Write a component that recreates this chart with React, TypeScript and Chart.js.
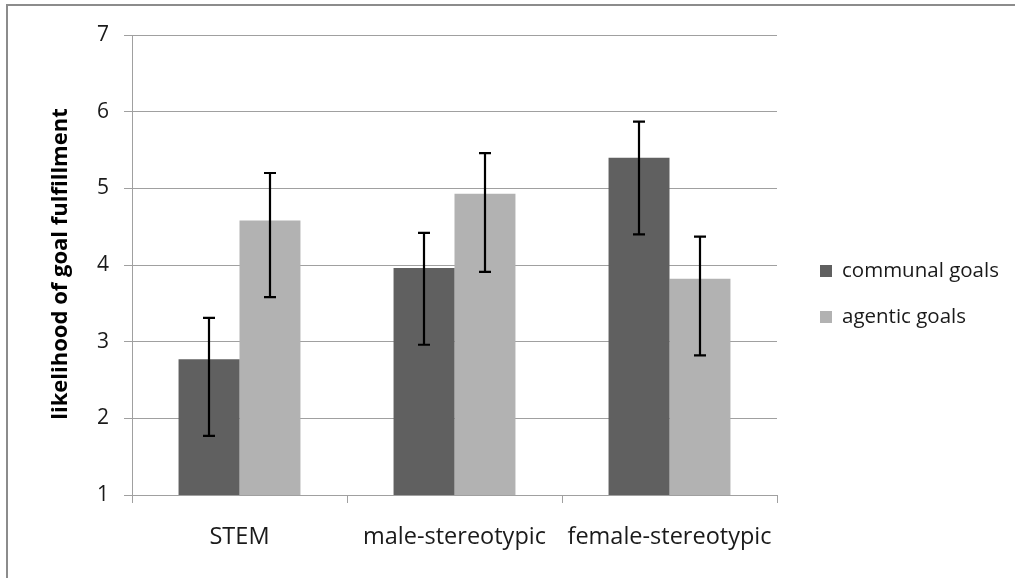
import React, { useEffect, useRef } from "react";
import { Chart, registerables } from "chart.js";

Chart.register(...registerables);

const categories = ["STEM", "male-stereotypic", "female-stereotypic"];
const seriesNames = ["communal goals", "agentic goals"];
const communalMeans = [2.77, 3.96, 5.4];
const agenticMeans = [4.58, 4.93, 3.82];
const communalLow = [1.77, 2.96, 4.4];
const communalHigh = [3.31, 4.42, 5.87];
const agenticLow = [3.58, 3.91, 2.82];
const agenticHigh = [5.2, 5.46, 4.37];
const yTicks = [1, 2, 3, 4, 5, 6, 7];
const yTitle = "likelihood of goal fulfillment";

const COLORS = ["#606060", "#b2b2b2"];
const FONT = "'Open Sans', 'DejaVu Sans', sans-serif";

const errorBarPlugin = {
  id: "errorBars",
  afterDatasetsDraw(chart: any) {
    const ctx = chart.ctx;
    const y = chart.scales.y;
    const lows = [communalLow, agenticLow];
    const highs = [communalHigh, agenticHigh];
    ctx.save();
    ctx.strokeStyle = "#000";
    ctx.lineWidth = 2.2;
    chart.data.datasets.forEach((_: any, di: number) => {
      const meta = chart.getDatasetMeta(di);
      meta.data.forEach((bar: any, i: number) => {
        const x = Math.round(bar.x);
        const yl = y.getPixelForValue(lows[di][i]);
        const yh = y.getPixelForValue(highs[di][i]);
        ctx.beginPath();
        ctx.moveTo(x, yl);
        ctx.lineTo(x, yh);
        ctx.moveTo(x - 6, yl);
        ctx.lineTo(x + 6, yl);
        ctx.moveTo(x - 6, yh);
        ctx.lineTo(x + 6, yh);
        ctx.stroke();
      });
    });
    ctx.restore();
  },
};

const decorPlugin = {
  id: "decor",
  afterDraw(chart: any) {
    const ctx = chart.ctx;
    const area = chart.chartArea;
    ctx.save();
    ctx.translate(61, (area.top + area.bottom) / 2 - 1);
    ctx.rotate(-Math.PI / 2);
    ctx.font = `bold 22px ${FONT}`;
    ctx.fillStyle = "#000";
    ctx.textAlign = "center";
    ctx.textBaseline = "middle";
    ctx.fillText(yTitle, 0, 0);
    ctx.restore();
    ctx.save();
    ctx.font = `20.5px ${FONT}`;
    ctx.textBaseline = "middle";
    ctx.textAlign = "left";
    seriesNames.forEach((name, i) => {
      const cy = 271 + i * 46;
      ctx.fillStyle = COLORS[i];
      ctx.fillRect(820, cy - 6, 12, 12);
      ctx.fillStyle = "#1a1a1a";
      ctx.fillText(name, 842, cy);
    });
    ctx.restore();
  },
};

export default function App() {
  const ref = useRef<HTMLCanvasElement>(null);
  useEffect(() => {
    if (!ref.current) return;
    const chart = new Chart(ref.current, {
      type: "bar",
      data: {
        labels: categories,
        datasets: [
          { label: seriesNames[0], data: communalMeans, backgroundColor: COLORS[0] },
          { label: seriesNames[1], data: agenticMeans, backgroundColor: COLORS[1] },
        ],
      },
      options: {
        animation: false,
        responsive: false,
        maintainAspectRatio: false,
        layout: { padding: { left: 0, right: 238, top: 35, bottom: 0 } },
        plugins: { legend: { display: false }, tooltip: { enabled: false } },
        datasets: { bar: { categoryPercentage: 0.567, barPercentage: 1 } },
        scales: {
          x: {
            afterFit: (s: any) => {
              s.height = 83;
            },
            grid: {
              display: true,
              drawOnChartArea: false,
              drawTicks: true,
              tickLength: 8,
              color: "#a0a0a0",
              offset: true,
            },
            border: { color: "#a0a0a0", width: 1 },
            ticks: {
              color: "#1a1a1a",
              font: { family: FONT, size: 23.5 },
              padding: 20,
            },
          },
          y: {
            min: 1,
            max: 7,
            afterFit: (s: any) => {
              s.width = 132;
            },
            afterBuildTicks: (s: any) => {
              s.ticks = yTicks.map((v) => ({ value: v }));
            },
            grid: { color: "#a0a0a0", tickLength: 8 },
            border: { color: "#a0a0a0", width: 1 },
            ticks: {
              color: "#1a1a1a",
              font: { family: FONT, size: 21 },
              padding: 15,
            },
          },
        },
      },
      plugins: [errorBarPlugin, decorPlugin],
    });
    return () => chart.destroy();
  }, []);
  return (
    <div style={{ position: "absolute", left: 0, top: 0, width: 1015, height: 578, background: "#fff" }}>
      <canvas ref={ref} width={1015} height={578} style={{ position: "absolute", left: 0, top: 0 }} />
      <div
        style={{
          position: "absolute",
          left: 6,
          top: 4,
          width: 1015,
          height: 600,
          borderTop: "2px solid #8c8c8c",
          borderLeft: "2px solid #8c8c8c",
          pointerEvents: "none",
        }}
      />
    </div>
  );
}
